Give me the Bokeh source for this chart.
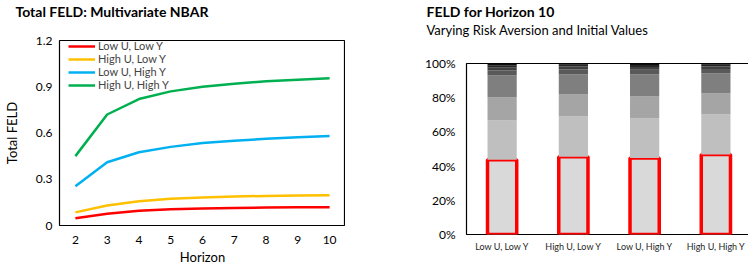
from bokeh.plotting import figure
from bokeh.models import (ColumnDataSource, FixedTicker, Range1d, Title,
                          NumeralTickFormatter, Legend, LegendItem, Spacer)
from bokeh.layouts import row
from bokeh.embed import file_html
from bokeh.resources import INLINE

FONT = "Lato"

# ---- left chart data ----
horizon = [2, 3, 4, 5, 6, 7, 8, 9, 10]
low_u_low_y = [0.047, 0.076, 0.095, 0.106, 0.111, 0.114, 0.116, 0.118, 0.119]
high_u_low_y = [0.085, 0.130, 0.158, 0.173, 0.182, 0.188, 0.192, 0.195, 0.197]
low_u_high_y = [0.255, 0.410, 0.475, 0.510, 0.535, 0.550, 0.562, 0.572, 0.580]
high_u_high_y = [0.450, 0.720, 0.820, 0.870, 0.900, 0.920, 0.935, 0.945, 0.955]
series_names = ["Low U, Low Y", "High U, Low Y", "Low U, High Y", "High U, High Y"]
series_colors = ["#ff0000", "#ffc000", "#00b0f0", "#00b050"]
y_ticks = [0, 0.3, 0.6, 0.9, 1.2]

# ---- right chart data ----
categories = ["Low U, Low Y", "High U, Low Y", "Low U, High Y", "High U, High Y"]
layer1 = [0.437, 0.454, 0.448, 0.468]
layer2 = [0.230, 0.236, 0.230, 0.234]
layer3 = [0.134, 0.129, 0.129, 0.123]
layer4 = [0.129, 0.117, 0.129, 0.117]
layer5 = [0.029, 0.029, 0.027, 0.026]
layer6 = [0.019, 0.017, 0.017, 0.015]
layer7 = [0.012, 0.010, 0.011, 0.009]
layer8 = [0.010, 0.008, 0.009, 0.008]
layer_colors = ["#d9d9d9", "#bfbfbf", "#a5a5a5", "#7f7f7f", "#595959", "#404040", "#262626", "#0d0d0d"]
pct_ticks = [0, 0.2, 0.4, 0.6, 0.8, 1.0]


def spacer_title(standoff):
    # blank title used only to reserve space between the frame and the real titles
    return Title(text=" ", text_font_size="1px", text_color="white", standoff=standoff)


def no_borders(p):
    p.min_border = 0
    p.min_border_left = 0
    p.min_border_right = 0
    p.min_border_top = 0
    p.min_border_bottom = 0


def style_axis(ax, size="12px"):
    ax.axis_line_color = None
    ax.major_tick_line_color = None
    ax.minor_tick_line_color = None
    ax.major_tick_out = 0
    ax.major_tick_in = 0
    ax.minor_tick_out = 0
    ax.minor_tick_in = 0
    ax.major_label_text_font = FONT
    ax.major_label_text_font_size = size
    ax.major_label_text_color = "#000000"
    ax.axis_label_text_font = FONT
    ax.axis_label_text_font_size = "13px"
    ax.axis_label_text_font_style = "normal"
    ax.axis_label_text_color = "#000000"


# ================= left figure =================
p1 = figure(frame_width=286, frame_height=185, output_backend="svg", toolbar_location=None,
            x_range=Range1d(1.5, 10.5), y_range=Range1d(0, 1.2), frame_align=False,
            align="start")
no_borders(p1)
p1.xgrid.visible = False
p1.ygrid.visible = False
p1.outline_line_color = "#000000"
p1.outline_line_width = 1.2

all_series = [low_u_low_y, high_u_low_y, low_u_high_y, high_u_high_y]
items = []
for name, col, ys in zip(series_names, series_colors, all_series):
    r = p1.line(horizon, ys, line_color=col, line_width=2.5)
    items.append(LegendItem(label=name, renderers=[r]))

leg = Legend(items=items, location=(9, 134), border_line_color=None, background_fill_alpha=0,
             label_text_font=FONT, label_text_font_size="11px", glyph_width=27, glyph_height=12,
             label_height=12, spacing=0, padding=0, margin=0, label_standoff=3)
p1.add_layout(leg)

xax1 = p1.below[0]
yax1 = p1.left[0]
xax1.ticker = FixedTicker(ticks=horizon)
yax1.ticker = FixedTicker(ticks=y_ticks)
yax1.major_label_overrides = {0: "0", 0.3: "0.3", 0.6: "0.6", 0.9: "0.9", 1.2: "1.2"}
xax1.axis_label = "Horizon"
yax1.axis_label = "Total FELD"
style_axis(xax1)
style_axis(yax1)
xax1.major_label_standoff = 10
xax1.axis_label_standoff = 2
yax1.major_label_standoff = 7
yax1.axis_label_standoff = 13

p1.add_layout(spacer_title(18), "above")
p1.add_layout(Title(text="Total FELD: Multivariate NBAR", text_font=FONT, text_font_size="14px",
                    text_font_style="bold", text_color="#000000", align="left", offset=-44,
                    standoff=0), "above")

# ================= right figure =================
cat_pos = list(range(len(categories)))
p2 = figure(frame_width=285, frame_height=171, output_backend="svg", toolbar_location=None,
            x_range=Range1d(-0.5, len(categories) - 0.5), y_range=Range1d(0, 1.0),
            frame_align=False, align="start")
no_borders(p2)
p2.xgrid.visible = False
p2.ygrid.visible = False
p2.outline_line_color = "#000000"
p2.outline_line_width = 1.2

src = ColumnDataSource(dict(x=cat_pos, cat=categories, l1=layer1, l2=layer2, l3=layer3,
                            l4=layer4, l5=layer5, l6=layer6, l7=layer7, l8=layer8))
keys = ["l1", "l2", "l3", "l4", "l5", "l6", "l7", "l8"]
line_cols = ["#ff0000"] + [None] * 7
line_ws = [3.5] + [0] * 7
p2.vbar_stack(keys, x="x", width=0.41, source=src, fill_color=layer_colors,
              line_color=line_cols, line_width=line_ws)

xax2 = p2.below[0]
yax2 = p2.left[0]
xax2.ticker = FixedTicker(ticks=cat_pos)
xax2.major_label_overrides = {i: c for i, c in zip(cat_pos, categories)}
yax2.ticker = FixedTicker(ticks=pct_ticks)
yax2.formatter = NumeralTickFormatter(format="0%")
style_axis(xax2, "9px")
style_axis(yax2)
xax2.major_label_text_color = "#262626"
yax2.major_label_standoff = 11
xax2.major_label_standoff = 6

p2.add_layout(spacer_title(23), "above")
p2.add_layout(Title(text="Varying Risk Aversion and Initial Values", text_font=FONT,
                    text_font_size="13px", text_font_style="normal", text_color="#000000",
                    align="left", offset=-40, standoff=0), "above")
p2.add_layout(Title(text="FELD for Horizon 10", text_font=FONT, text_font_size="14px",
                    text_font_style="bold", text_color="#000000", align="left", offset=-40,
                    standoff=0), "above")

layout = row(p1, Spacer(width=77, height=10), p2, spacing=0)
open("out.html", "w").write(file_html(layout, INLINE))
